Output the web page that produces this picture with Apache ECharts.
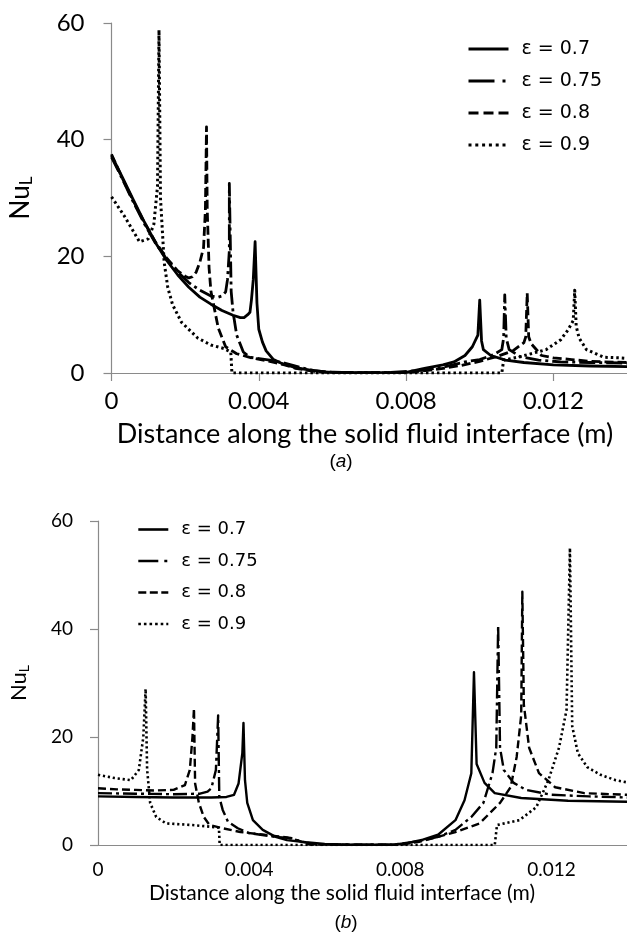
<!DOCTYPE html>
<html><head><meta charset="utf-8">
<script src="https://cdn.jsdelivr.net/npm/echarts@6/dist/echarts.min.js"></script>
<style>html,body{margin:0;padding:0;background:#fff}#c{width:627px;height:949px}</style>
</head><body><div id="c"></div>
<script>
// ---------- data ----------
const seriesNames = ['ε = 0.7', 'ε = 0.75', 'ε = 0.8', 'ε = 0.9'];
const xAxisTitle = 'Distance along the solid fluid interface (m)';
const xTickStep = 0.004;
const yTickStep = 20;

// chart (a)
const a07 = [[0,37.3],[0.0003,33.5],[0.0006,29.6],[0.0009,25.8],[0.0012,22.3],[0.0015,19.3],[0.0018,16.8],[0.0021,14.7],[0.0024,13.0],[0.0027,11.8],[0.0030,10.7],[0.0033,9.9],[0.0035,9.5],[0.0036,9.5],[0.0037,10.0],[0.00376,10.4],[0.0038,12.5],[0.00385,16],[0.0039,22.5],[0.00395,12],[0.0040,7.5],[0.0041,5.3],[0.0042,3.8],[0.0044,2.3],[0.0046,1.7],[0.0050,0.9],[0.0054,0.5],[0.0058,0.2],[0.0065,0.05],[0.0080,0.1],[0.0085,0.8],[0.0090,1.4],[0.0093,1.9],[0.0096,3.0],[0.0098,4.5],[0.00995,6.5],[0.0100,12.5],[0.01005,5.5],[0.0101,4.0],[0.0103,3.0],[0.0107,2.2],[0.0112,1.8],[0.0120,1.4],[0.0130,1.2],[0.0140,1.1]];
const a075 = [[0,37.0],[0.0003,33.2],[0.0006,29.2],[0.0009,25.5],[0.0012,22.2],[0.0015,19.5],[0.0018,17.3],[0.0021,15.5],[0.0024,14.2],[0.0027,13.2],[0.0029,13.0],[0.0030,13.2],[0.0031,13.9],[0.00315,16],[0.0032,21],[0.0032,32.5],[0.00325,14],[0.0033,10.5],[0.0034,6.5],[0.00358,3.6],[0.00376,2.7],[0.0043,2.2],[0.0047,1.7],[0.0051,1.0],[0.0055,0.4],[0.0060,0.1],[0.0075,0.05],[0.0085,0.5],[0.0090,1.0],[0.0096,1.9],[0.0100,2.3],[0.0104,3.2],[0.0106,4.0],[0.01065,6],[0.01068,13.4],[0.01072,6],[0.0108,4.0],[0.0111,2.8],[0.0116,2.2],[0.0122,1.9],[0.0130,1.8],[0.0140,1.7]];
const a08 = [[0,37.5],[0.0003,33.3],[0.0006,29.4],[0.0009,25.7],[0.0012,22.4],[0.0015,19.7],[0.0018,17.5],[0.0020,16.6],[0.0021,16.3],[0.0022,16.5],[0.0023,17.3],[0.0024,19],[0.0025,21.5],[0.00255,28],[0.00258,42.2],[0.0026,28],[0.00265,18],[0.0027,14],[0.0029,7.7],[0.0031,4.5],[0.0034,3.3],[0.0038,2.6],[0.0043,2.0],[0.0047,1.4],[0.0050,0.8],[0.0055,0.3],[0.0060,0.05],[0.0080,0.05],[0.0088,0.6],[0.0095,1.3],[0.0100,2.0],[0.0105,2.9],[0.0109,3.8],[0.0112,5.2],[0.01125,6.2],[0.01129,13.7],[0.01133,6.2],[0.0114,5.0],[0.01168,3.0],[0.0120,2.6],[0.0125,2.3],[0.0130,2.0],[0.0140,1.8]];
const a09 = [[0,30.2],[0.00034,27],[0.00076,22.5],[0.0010,23],[0.00115,25.5],[0.00125,32],[0.00129,58.8],[0.00133,30],[0.00143,19],[0.00153,14.6],[0.00166,11.7],[0.0019,8.7],[0.00234,6.0],[0.0027,4.8],[0.00305,4.2],[0.00324,3.6],[0.00327,0],[0.0106,0],[0.01063,0],[0.01065,2.2],[0.0111,2.8],[0.0118,4.0],[0.0122,5.7],[0.0124,7.4],[0.01254,9],[0.01258,14.2],[0.01262,8],[0.0127,6.0],[0.0129,4.0],[0.01337,2.7],[0.0138,2.6],[0.0140,2.5]];

// chart (b)
const b07 = [[0,9.0],[0.001,8.9],[0.002,8.8],[0.003,8.8],[0.0034,8.9],[0.0036,9.3],[0.00372,11.4],[0.00382,17],[0.00385,22.6],[0.00389,12],[0.00395,7.8],[0.0041,4.6],[0.00436,2.8],[0.0047,1.5],[0.0050,0.9],[0.0055,0.5],[0.0060,0.2],[0.0065,0.05],[0.0078,0.05],[0.0082,0.4],[0.0086,1.0],[0.0090,1.9],[0.00946,4.6],[0.0097,8.3],[0.00988,13.3],[0.00995,32],[0.01002,15],[0.01023,11.5],[0.0105,9.6],[0.0112,8.7],[0.01244,8.2],[0.0140,8.0]];
const b075 = [[0,9.6],[0.001,9.5],[0.002,9.4],[0.0027,9.5],[0.0029,9.9],[0.0030,10.5],[0.00312,13.9],[0.00318,24],[0.00321,8.9],[0.0033,6.5],[0.00344,4.3],[0.0037,3.1],[0.0040,2.2],[0.0047,1.5],[0.0051,1.3],[0.0054,0.6],[0.0058,0.1],[0.0078,0.05],[0.0083,0.5],[0.0088,1.2],[0.0090,1.5],[0.00946,2.8],[0.00988,5.2],[0.0102,7.8],[0.01044,13.3],[0.01054,18],[0.01059,40.7],[0.01064,18],[0.01074,13.9],[0.0110,11.5],[0.01133,10.2],[0.0120,9.3],[0.0130,9.0],[0.0140,8.8]];
const b08 = [[0,10.5],[0.0005,10.3],[0.001,10.2],[0.0015,10.1],[0.002,10.2],[0.0023,11.1],[0.00243,13.9],[0.0025,20],[0.00254,25.3],[0.00257,11.4],[0.00267,7.8],[0.0028,5.2],[0.00295,3.7],[0.0033,3.1],[0.00377,2.4],[0.0044,1.9],[0.0050,1.4],[0.0053,0.8],[0.0056,0.1],[0.0080,0.05],[0.0085,0.6],[0.0090,1.5],[0.00946,2.4],[0.0101,4.0],[0.01064,7.8],[0.01092,10.7],[0.01108,16.3],[0.0112,24],[0.01123,46.9],[0.01127,26],[0.01141,18],[0.01167,13.3],[0.0121,10.7],[0.01287,9.6],[0.0140,9.3]];
const b09 = [[0,13.0],[0.00044,12.4],[0.00087,12.0],[0.00108,13.9],[0.0012,20],[0.00126,28.9],[0.0013,14],[0.00138,7.8],[0.00154,5.2],[0.0018,4.0],[0.0025,3.7],[0.0031,3.3],[0.0032,3.2],[0.00322,0],[0.0105,0],[0.01054,0],[0.01056,3.7],[0.01115,4.6],[0.0116,7.0],[0.01192,12],[0.0122,18],[0.0124,25],[0.01249,55],[0.01255,22],[0.0127,17],[0.01295,14.4],[0.0133,13],[0.0137,12],[0.0140,11.6]];

// ---------- styles ----------
const FONT = 'Lato';
const lineTypesA = ['solid', [16, 4, 3, 4], [9, 4], [2.5, 3]];
const lineTypesB = ['solid', [14, 4, 3, 4], [8, 4], [2.2, 2.8]];
const widthsA = [2.8, 2.8, 2.8, 3];
const widthsB = [2.4, 2.4, 2.4, 2.6];
const legendTypesA = ['solid', [26, 8, 3, 8], [10, 5], [3, 3.8]];
const legendTypesB = ['solid', [20, 6, 3, 6], [8, 3.5], [2.6, 3]];
const dataA = [a07, a075, a08, a09];
const dataB = [b07, b075, b08, b09];
const GRAY = '#8a8a8a';
const TXT = '#000';

function mkSeries(data, idx, gi, types, widths) {
  return {
    type: 'line', name: seriesNames[idx], data: data, xAxisIndex: gi, yAxisIndex: gi,
    symbol: 'none', smooth: false, animation: false, clip: true,
    lineStyle: { color: '#000', width: widths[idx], type: types[idx], cap: 'butt', join: 'round' },
    itemStyle: { color: '#000' }, z: 10 - idx
  };
}
const series = [];
dataA.forEach((d, i) => series.push(mkSeries(d, i, 0, lineTypesA, widthsA)));
dataB.forEach((d, i) => series.push(mkSeries(d, i, 1, lineTypesB, widthsB)));

function xAxis(gi, fs, margin, ticks) {
  return {
    type: 'value', gridIndex: gi, min: 0, max: 0.014, interval: xTickStep,
    axisLine: { show: true, onZero: false, lineStyle: { color: GRAY, width: 1.2 } },
    axisTick: { show: ticks, length: 8, lineStyle: { color: GRAY, width: 1.2 } },
    axisLabel: { fontFamily: FONT, fontSize: fs, color: TXT, margin: margin, showMaxLabel: false },
    splitLine: { show: false }
  };
}
function yAxis(gi, fs, margin, nameFs, nameGap) {
  return {
    type: 'value', gridIndex: gi, min: 0, max: 60, interval: yTickStep,
    axisLine: { show: true, lineStyle: { color: GRAY, width: 1.2 } },
    axisTick: { show: true, length: 8, lineStyle: { color: GRAY, width: 1.2 } },
    axisLabel: { fontFamily: FONT, fontSize: fs, color: TXT, margin: margin },
    splitLine: { show: false },
    name: '{n|Nu}{s|L}', nameLocation: 'middle', nameGap: nameGap,
    nameTextStyle: { color: TXT, rich: {
      n: { fontFamily: FONT, fontSize: nameFs, color: TXT },
      s: { fontFamily: FONT, fontSize: Math.round(nameFs * 0.65), color: TXT, padding: [Math.round(nameFs * 0.45), 0, 0, 0] }
    } }
  };
}
function legend(left, top, fs, gap, w, types, widths) {
  return {
    orient: 'vertical', left: left, top: top, padding: 0, itemGap: gap,
    itemWidth: w, itemHeight: 12, selectedMode: false,
    textStyle: { fontFamily: 'DejaVu Sans', fontSize: fs, lineHeight: fs + 1, color: TXT, padding: [0, 0, 0, 8] },
    itemStyle: { opacity: 0 },
    data: seriesNames.map((n, i) => ({ name: n, lineStyle: { type: types[i], width: widths[i], color: '#000', cap: 'butt', opacity: 1 }, itemStyle: { opacity: 0 } }))
  };
}

const chart = echarts.init(document.getElementById('c'), null, { renderer: 'canvas' });
chart.setOption({
  animation: false,
  backgroundColor: '#fff',
  grid: [
    { left: 99, top: 23, width: 532, height: 350 },
    { left: 88, top: 521, width: 546, height: 324 }
  ],
  xAxis: [xAxis(0, 24, 16, true), xAxis(1, 19, 15, false)],
  yAxis: [yAxis(0, 24, 27, 26, 76), yAxis(1, 19, 25, 22, 67)],
  legend: [
    legend(467, 39, 19, 12, 40, legendTypesA, [3, 3, 3, 3]),
    legend(137, 520, 18, 12.5, 30, legendTypesB, [2.6, 2.6, 2.6, 2.6])
  ],
  graphic: [
    { type: 'text', x: 365, y: 434, style: { text: xAxisTitle, font: '27px Lato', fill: TXT, textAlign: 'center', textVerticalAlign: 'middle' } },
    { type: 'text', x: 341, y: 462, style: { text: '({i|a})', font: '19px "Liberation Sans"', fill: TXT, textAlign: 'center', textVerticalAlign: 'middle', rich: { i: { fontStyle: 'italic', fontFamily: 'Liberation Sans', fontSize: 19 } } } },
    { type: 'text', x: 342, y: 893, style: { text: xAxisTitle, font: '21px Lato', fill: TXT, textAlign: 'center', textVerticalAlign: 'middle' } },
    { type: 'text', x: 346, y: 923, style: { text: '({i|b})', font: '19px "Liberation Sans"', fill: TXT, textAlign: 'center', textVerticalAlign: 'middle', rich: { i: { fontStyle: 'italic', fontFamily: 'Liberation Sans', fontSize: 19 } } } }
  ],
  series: series
});
</script></body></html>
